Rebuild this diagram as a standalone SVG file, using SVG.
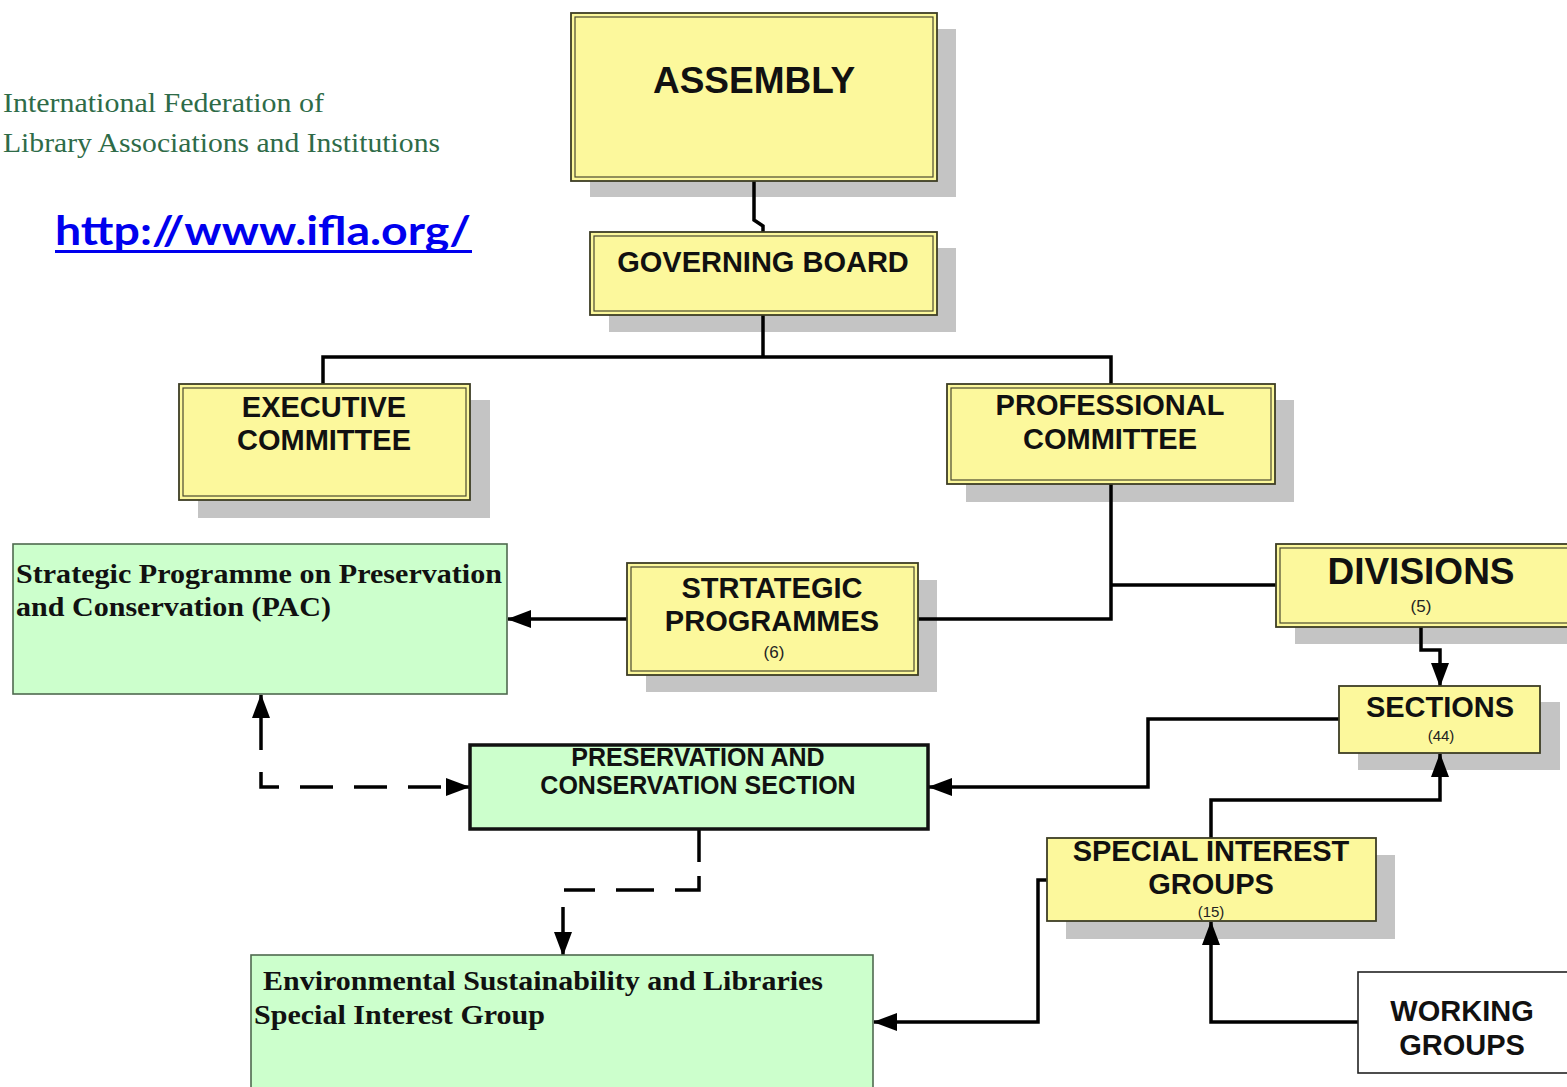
<svg xmlns="http://www.w3.org/2000/svg" width="1567" height="1087" viewBox="0 0 1567 1087">
<defs>
<marker id="arr" viewBox="0 0 24 18" refX="23" refY="9" markerWidth="24" markerHeight="18" markerUnits="userSpaceOnUse" orient="auto">
<path d="M0,0 L24,9 L0,18 Z" fill="#000"/>
</marker>
<style>
.sh{fill:#c4c4c4}
.yb{fill:#fcf89c;stroke:#3d3d25;stroke-width:1.8}
.yi{fill:none;stroke:#4a4a30;stroke-width:1.2}
.gb{fill:#ccffcc;stroke:#4f6a4f;stroke-width:1.6}
.t{font-family:"Liberation Sans",Arial,sans-serif;font-weight:bold;fill:#111;text-anchor:middle}
.n{font-family:"Liberation Sans",Arial,sans-serif;fill:#222;text-anchor:middle}
.s{font-family:"Liberation Serif","Times New Roman",serif;font-weight:bold;fill:#111;font-size:28px}
.c{fill:none;stroke:#000;stroke-width:3.5}
.d{fill:none;stroke:#000;stroke-width:3.5}
</style>
</defs>
<rect width="1567" height="1087" fill="#fff"/>
<g id="header">
<text x="3" y="112" font-family="'Liberation Serif','Times New Roman',serif" font-size="27" fill="#2e6b48" textLength="321" lengthAdjust="spacingAndGlyphs">International Federation of</text>
<text x="3" y="152" font-family="'Liberation Serif','Times New Roman',serif" font-size="27" fill="#2e6b48" textLength="437" lengthAdjust="spacingAndGlyphs">Library Associations and Institutions</text>
<text x="55" y="245" font-family="Lato,'Open Sans','Liberation Sans',sans-serif" font-weight="bold" font-size="40" fill="#0000ee" textLength="416" lengthAdjust="spacingAndGlyphs">http://www.ifla.org/</text>
<rect x="55" y="250" width="417" height="3" fill="#0000ee"/>
</g>
<g id="shadows">
<rect class="sh" x="590" y="29" width="366" height="168"/>
<rect class="sh" x="609" y="248" width="347" height="84"/>
<rect class="sh" x="198" y="400" width="292" height="118"/>
<rect class="sh" x="966" y="400" width="328" height="102"/>
<rect class="sh" x="1295" y="560" width="290" height="84"/>
<rect class="sh" x="646" y="580" width="291" height="112"/>
<rect class="sh" x="1358" y="702" width="202" height="68"/>
<rect class="sh" x="1066" y="855" width="329" height="84"/>
</g>
<g id="connectors">
<path class="c" d="M754,181 V220 L763,226 V232"/>
<path class="c" d="M763,315 V357"/>
<path class="c" d="M323,384 V357 H1111 V384"/>
<path class="c" d="M1111,484 V619 H918"/>
<path class="c" d="M1111,585 H1276"/>
<path class="c" d="M627,619 H508" marker-end="url(#arr)"/>
<path class="c" d="M1421,627 V650 H1440 V686" marker-end="url(#arr)"/>
<path class="c" d="M1339,719 H1148 V787 H929" marker-end="url(#arr)"/>
<path class="c" d="M1211,838 V800 H1440 V754" marker-end="url(#arr)"/>
<path class="c" d="M1358,1022 H1211 V922" marker-end="url(#arr)"/>
<path class="c" d="M1047,880 H1038 V1022 H874" marker-end="url(#arr)"/>
<path class="c" d="M261,750 V695" marker-end="url(#arr)"/>
<path class="d" d="M261,772 V787 H469" stroke-dasharray="33 21" marker-end="url(#arr)"/>
<path class="c" d="M699,829 V862"/>
<path class="d" d="M699,876 V890 H564" stroke-dasharray="38 21"/>
<path class="c" d="M563,907 V955" marker-end="url(#arr)"/>
</g>
<g id="assembly">
<rect class="yb" x="571" y="13" width="366" height="168"/>
<rect class="yi" x="575" y="17" width="358" height="160"/>
<text class="t" x="754" y="93" font-size="37">ASSEMBLY</text>
</g>
<g id="governing-board">
<rect class="yb" x="590" y="232" width="347" height="83"/>
<rect class="yi" x="594" y="236" width="339" height="75"/>
<text class="t" x="763" y="272" font-size="29">GOVERNING BOARD</text>
</g>
<g id="executive-committee">
<rect class="yb" x="179" y="384" width="291" height="116"/>
<rect class="yi" x="183" y="388" width="283" height="108"/>
<text class="t" x="324" y="417" font-size="29">EXECUTIVE</text>
<text class="t" x="324" y="450" font-size="29">COMMITTEE</text>
</g>
<g id="professional-committee">
<rect class="yb" x="947" y="384" width="328" height="100"/>
<rect class="yi" x="951" y="388" width="320" height="92"/>
<text class="t" x="1110" y="415" font-size="29">PROFESSIONAL</text>
<text class="t" x="1110" y="449" font-size="29">COMMITTEE</text>
</g>
<g id="divisions">
<rect class="yb" x="1276" y="544" width="292" height="83"/>
<rect class="yi" x="1280" y="548" width="290" height="75"/>
<text class="t" x="1421" y="584" font-size="37">DIVISIONS</text>
<text class="n" x="1421" y="612" font-size="17">(5)</text>
</g>
<g id="strategic-programmes">
<rect class="yb" x="627" y="563" width="291" height="112"/>
<rect class="yi" x="631" y="567" width="283" height="104"/>
<text class="t" x="772" y="598" font-size="29">STRTATEGIC</text>
<text class="t" x="772" y="631" font-size="29">PROGRAMMES</text>
<text class="n" x="774" y="658" font-size="17">(6)</text>
</g>
<g id="sections">
<rect class="yb" x="1339" y="686" width="201" height="67"/>
<text class="t" x="1440" y="717" font-size="29">SECTIONS</text>
<text class="n" x="1441" y="741" font-size="15">(44)</text>
</g>
<g id="special-interest-groups">
<rect class="yb" x="1047" y="838" width="329" height="83"/>
<text class="t" x="1211" y="861" font-size="29">SPECIAL INTEREST</text>
<text class="t" x="1211" y="894" font-size="29">GROUPS</text>
<text class="n" x="1211" y="917" font-size="15">(15)</text>
</g>
<g id="working-groups">
<rect x="1358" y="972" width="220" height="101" fill="#fff" stroke="#222" stroke-width="1.6"/>
<text class="t" x="1462" y="1021" font-size="29">WORKING</text>
<text class="t" x="1462" y="1055" font-size="29">GROUPS</text>
</g>
<g id="pac">
<rect class="gb" x="13" y="544" width="494" height="150"/>
<text class="s" x="16" y="583" textLength="486" lengthAdjust="spacingAndGlyphs">Strategic Programme on Preservation</text>
<text class="s" x="16" y="616" textLength="315" lengthAdjust="spacingAndGlyphs">and Conservation (PAC)</text>
</g>
<g id="preservation-section">
<rect x="470" y="745" width="458" height="84" fill="#ccffcc" stroke="#111" stroke-width="3.5"/>
<text class="t" x="698" y="766" font-size="25">PRESERVATION AND</text>
<text class="t" x="698" y="794" font-size="25">CONSERVATION SECTION</text>
</g>
<g id="environmental-sig">
<rect class="gb" x="251" y="955" width="622" height="150"/>
<text class="s" x="263" y="990" textLength="560" lengthAdjust="spacingAndGlyphs">Environmental Sustainability and Libraries</text>
<text class="s" x="254" y="1024" textLength="291" lengthAdjust="spacingAndGlyphs">Special Interest Group</text>
</g>
</svg>
